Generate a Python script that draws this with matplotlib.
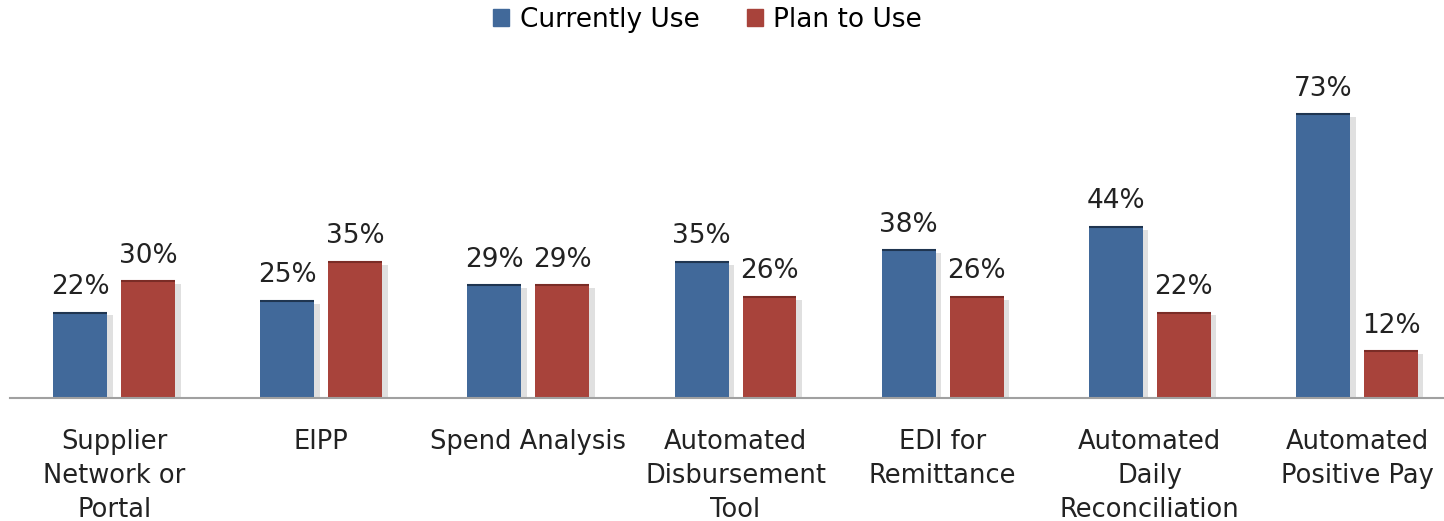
import matplotlib.pyplot as plt
import matplotlib.patheffects as pe
from matplotlib.patches import Patch
import numpy as np

categories = ["Supplier\nNetwork or\nPortal", "EIPP", "Spend Analysis",
              "Automated\nDisbursement\nTool", "EDI for\nRemittance",
              "Automated\nDaily\nReconciliation", "Automated\nPositive Pay"]
currently_use = [22, 25, 29, 35, 38, 44, 73]
plan_to_use = [30, 35, 29, 26, 26, 22, 12]

blue = "#41699a"
red = "#a8433b"

fig = plt.figure(figsize=(14.44, 5.21), dpi=100)
ax = fig.add_axes([0.007, 0.236, 0.993, 0.60])

x = np.arange(len(categories))
w = 0.26
off = 0.164
shadow = [pe.SimplePatchShadow(offset=(4, -2), shadow_rgbFace="#999999", alpha=0.3), pe.Normal()]

b1 = ax.bar(x - off, currently_use, w, color=blue, edgecolor="none", path_effects=shadow)
b2 = ax.bar(x + off, plan_to_use, w, color=red, edgecolor="none", path_effects=shadow)

# darker top edge like the original
for bars, col in ((b1, "#1f3550"), (b2, "#7a2c26")):
    for b in bars:
        ax.plot([b.get_x(), b.get_x() + b.get_width()], [b.get_height()] * 2,
                color=col, lw=1.5, solid_capstyle="butt")

for bars, vals in ((b1, currently_use), (b2, plan_to_use)):
    for b, v in zip(bars, vals):
        ax.annotate("%d%%" % v, (b.get_x() + b.get_width() / 2, v), xytext=(0, 9),
                    textcoords="offset points", ha="center", va="bottom",
                    fontsize=19, color="#222222")

ax.set_xlim(-0.502, 6.42)
ax.set_ylim(0, 80.4)
ax.set_yticks([])
ax.set_xticks(x)
ax.set_xticklabels(categories, fontsize=18.5, linespacing=1.4, color="#222222")
ax.tick_params(axis="x", length=0, pad=22)
for s in ["top", "right", "left"]:
    ax.spines[s].set_visible(False)
ax.spines["bottom"].set_color("#a0a0a0")
ax.spines["bottom"].set_linewidth(1.5)

handles = [Patch(color=blue, label="Currently Use"), Patch(color=red, label="Plan to Use")]
fig.legend(handles=handles, loc="upper center", bbox_to_anchor=(0.49, 1.033),
           ncol=2, frameon=False, fontsize=19, handlelength=0.6, handleheight=0.6,
           handletextpad=0.4, columnspacing=1.8)

fig.savefig("out.png", dpi=100)
